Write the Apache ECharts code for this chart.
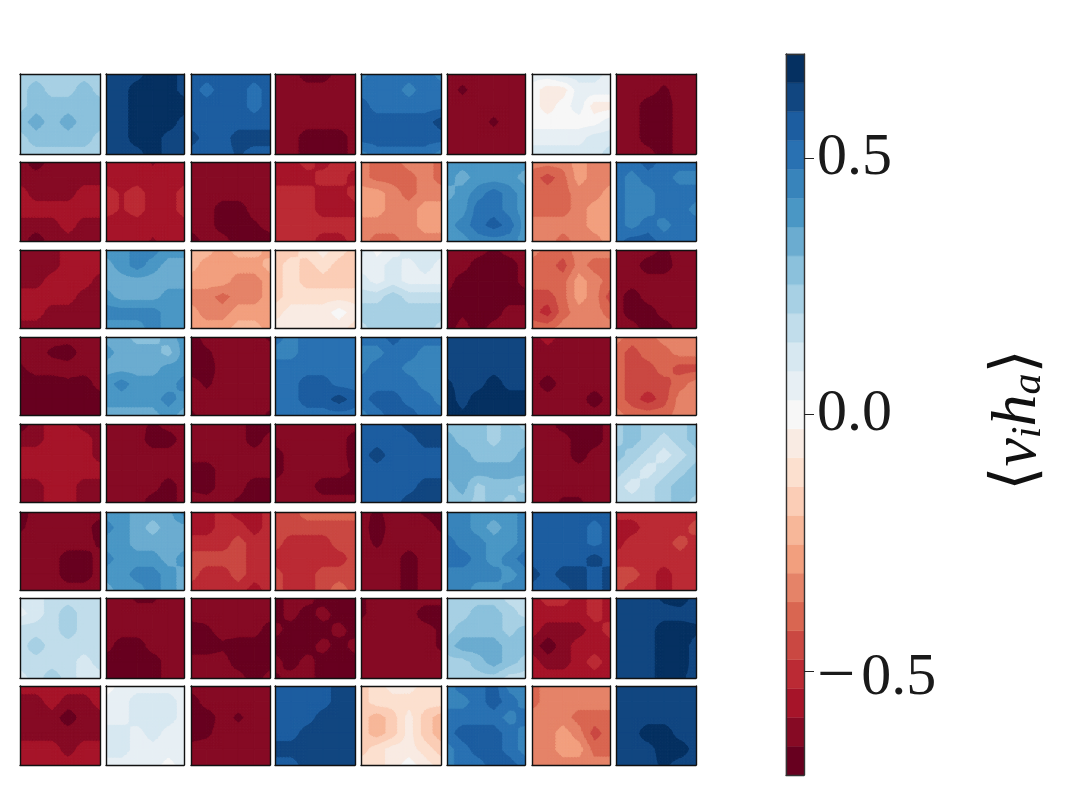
<!DOCTYPE html>
<html>
<head>
<meta charset="utf-8">
<style>html,body{margin:0;padding:0;background:#fff}#c{width:1069px;height:799px}</style>
<script src="https://cdn.jsdelivr.net/npm/echarts@6/dist/echarts.min.js"></script>
</head>
<body>
<div id="c"></div>
<script>
// Mean activation <v_i h_a> per panel: eight rows of eight 6x6 grids, listed row by row from the top.
const row1 = [
  [.23,.23,.23,.23,.23,.23, .23,.28,.23,.23,.28,.23, .23,.28,.28,.28,.28,.28, .28,.34,.28,.34,.28,.28, .23,.28,.28,.28,.28,.23, .23,.23,.23,.23,.23,.23],
  [.62,.62,.62,.68,.68,.62, .62,.62,.68,.68,.68,.62, .62,.62,.68,.68,.68,.68, .62,.62,.68,.68,.68,.62, .62,.62,.68,.68,.62,.62, .62,.62,.62,.68,.62,.62],
  [.56,.56,.56,.56,.56,.56, .56,.51,.56,.56,.51,.56, .56,.56,.56,.56,.51,.56, .56,.56,.56,.56,.56,.56, .62,.56,.56,.62,.62,.62, .56,.56,.56,.6,.56,.56],
  [-.62,-.62,-.68,-.68,-.62,-.62, -.62,-.62,-.62,-.62,-.62,-.62, -.62,-.62,-.62,-.62,-.62,-.62, -.62,-.62,-.62,-.62,-.62,-.62, -.62,-.62,-.68,-.68,-.68,-.62, -.62,-.62,-.68,-.68,-.68,-.62],
  [.45,.51,.51,.51,.51,.45, .51,.51,.51,.45,.51,.51, .56,.51,.51,.51,.51,.51, .56,.56,.56,.56,.56,.62, .56,.56,.56,.56,.56,.56, .45,.51,.51,.51,.51,.45],
  [-.62,-.62,-.62,-.62,-.62,-.62, -.62,-.66,-.62,-.62,-.62,-.62, -.62,-.62,-.62,-.62,-.62,-.62, -.62,-.62,-.62,-.66,-.62,-.62, -.62,-.62,-.62,-.62,-.62,-.62, -.62,-.62,-.62,-.62,-.62,-.62],
  [.06,.06,.11,.11,.11,.06, 0,-.06,-.06,.06,.06,.06, 0,-.06,0,.06,-.06,-.06, 0,0,0,0,0,.06, .06,.06,.06,.06,.11,.11, .11,.11,.11,.11,.11,.17],
  [-.62,-.62,-.62,-.62,-.62,-.62, -.62,-.62,-.62,-.66,-.62,-.62, -.62,-.62,-.68,-.68,-.62,-.62, -.62,-.62,-.68,-.68,-.62,-.62, -.62,-.62,-.68,-.68,-.62,-.62, -.62,-.62,-.62,-.68,-.62,-.62]
];
const row2 = [
  [-.62,-.68,-.62,-.62,-.62,-.62, -.62,-.62,-.62,-.62,-.62,-.62, -.56,-.62,-.62,-.62,-.56,-.56, -.56,-.56,-.56,-.56,-.56,-.56, -.62,-.62,-.62,-.56,-.62,-.62, -.62,-.68,-.62,-.62,-.62,-.62],
  [-.56,-.56,-.56,-.6,-.56,-.56, -.56,-.56,-.56,-.56,-.56,-.56, -.51,-.54,-.51,-.56,-.56,-.51, -.51,-.54,-.51,-.56,-.56,-.51, -.56,-.56,-.56,-.56,-.56,-.56, -.56,-.56,-.56,-.6,-.56,-.56],
  [-.62,-.62,-.62,-.62,-.62,-.62, -.62,-.62,-.62,-.62,-.62,-.62, -.62,-.62,-.62,-.62,-.62,-.62, -.62,-.62,-.68,-.68,-.62,-.62, -.62,-.62,-.68,-.68,-.66,-.62, -.68,-.62,-.62,-.68,-.68,-.68],
  [-.56,-.56,-.51,-.56,-.51,-.51, -.56,-.56,-.56,-.51,-.51,-.56, -.51,-.51,-.51,-.56,-.56,-.51, -.51,-.51,-.51,-.56,-.56,-.56, -.51,-.51,-.51,-.51,-.51,-.51, -.51,-.51,-.51,-.56,-.56,-.51],
  [-.34,-.39,-.39,-.34,-.34,-.39, -.34,-.39,-.39,-.39,-.34,-.39, -.28,-.28,-.34,-.39,-.34,-.34, -.28,-.28,-.34,-.34,-.28,-.28, -.34,-.34,-.34,-.34,-.28,-.28, -.34,-.39,-.39,-.34,-.34,-.34],
  [.39,.39,.39,.39,.39,.39, .39,.34,.39,.39,.39,.34, .34,.39,.45,.51,.45,.39, .39,.39,.51,.51,.45,.39, .39,.45,.51,.56,.51,.39, .39,.39,.45,.45,.45,.39],
  [-.34,-.34,-.34,-.28,-.34,-.34, -.39,-.45,-.39,-.28,-.34,-.34, -.39,-.39,-.39,-.34,-.34,-.28, -.39,-.39,-.39,-.34,-.28,-.28, -.34,-.34,-.34,-.34,-.28,-.28, -.34,-.34,-.39,-.34,-.34,-.28],
  [.51,.51,.56,.51,.51,.51, .51,.45,.51,.51,.45,.45, .51,.45,.45,.51,.51,.51, .51,.45,.45,.51,.51,.45, .51,.45,.51,.45,.51,.51, .51,.56,.56,.51,.51,.51]
];
const row3 = [
  [-.62,-.62,-.62,-.56,-.56,-.56, -.62,-.62,-.62,-.56,-.56,-.56, -.62,-.62,-.56,-.56,-.56,-.62, -.56,-.56,-.56,-.56,-.62,-.62, -.56,-.56,-.62,-.62,-.62,-.62, -.62,-.62,-.62,-.62,-.62,-.62],
  [.39,.39,.45,.45,.39,.39, .34,.39,.45,.39,.34,.34, .34,.34,.34,.34,.34,.34, .39,.34,.34,.34,.39,.39, .45,.45,.45,.45,.39,.39, .39,.39,.39,.45,.39,.39],
  [-.23,-.23,-.28,-.23,-.23,-.28, -.23,-.28,-.28,-.28,-.28,-.23, -.28,-.28,-.28,-.34,-.34,-.28, -.34,-.34,-.39,-.34,-.34,-.28, -.28,-.34,-.34,-.28,-.28,-.28, -.28,-.28,-.28,-.23,-.23,-.28],
  [-.17,-.17,-.11,-.06,-.11,-.17, -.17,-.11,-.17,-.11,-.17,-.17, -.17,-.11,-.17,-.17,-.17,-.17, -.17,-.11,-.11,-.11,-.11,-.11, -.11,-.06,-.06,-.06,0,-.06, -.06,-.06,-.06,-.06,-.06,-.11],
  [.11,0,.06,.11,.11,.11, .06,.06,.11,.06,.11,.06, .11,.06,.11,.06,.06,.06, .17,.17,.23,.17,.17,.17, .23,.23,.23,.23,.23,.23, .17,.23,.23,.23,.23,.17],
  [-.62,-.62,-.62,-.66,-.62,-.62, -.62,-.62,-.68,-.68,-.68,-.62, -.62,-.68,-.68,-.68,-.68,-.62, -.66,-.68,-.68,-.68,-.68,-.68, -.68,-.66,-.68,-.68,-.62,-.62, -.68,-.62,-.68,-.62,-.62,-.62],
  [-.34,-.39,-.39,-.34,-.34,-.34, -.39,-.39,-.45,-.34,-.39,-.39, -.39,-.39,-.39,-.28,-.34,-.39, -.45,-.45,-.39,-.28,-.34,-.45, -.45,-.51,-.39,-.34,-.34,-.39, -.39,-.39,-.34,-.34,-.34,-.34],
  [-.62,-.62,-.62,-.66,-.62,-.62, -.62,-.62,-.68,-.68,-.62,-.62, -.62,-.62,-.62,-.62,-.62,-.62, -.62,-.68,-.62,-.62,-.62,-.62, -.62,-.68,-.68,-.62,-.62,-.62, -.62,-.62,-.68,-.68,-.62,-.62]
];
const row4 = [
  [-.62,-.62,-.62,-.62,-.62,-.62, -.62,-.62,-.66,-.68,-.62,-.62, -.66,-.62,-.62,-.62,-.62,-.62, -.68,-.68,-.68,-.66,-.68,-.62, -.68,-.68,-.66,-.68,-.68,-.68, -.66,-.68,-.68,-.68,-.66,-.68],
  [.34,.34,.28,.28,.34,.39, .39,.34,.34,.34,.28,.39, .34,.34,.34,.34,.39,.39, .39,.45,.39,.39,.39,.45, .39,.39,.39,.39,.45,.39, .34,.34,.34,.34,.39,.34],
  [-.68,-.62,-.62,-.62,-.62,-.66, -.68,-.66,-.62,-.62,-.62,-.62, -.68,-.68,-.62,-.62,-.62,-.62, -.62,-.66,-.62,-.62,-.62,-.62, -.62,-.62,-.62,-.62,-.62,-.62, -.66,-.62,-.62,-.62,-.62,-.66],
  [.51,.45,.51,.51,.51,.51, .45,.45,.51,.51,.51,.51, .51,.51,.51,.51,.51,.51, .51,.51,.56,.56,.51,.51, .51,.51,.56,.56,.62,.56, .51,.51,.51,.51,.51,.51],
  [.51,.51,.56,.51,.51,.51, .45,.45,.51,.51,.45,.45, .45,.51,.51,.45,.45,.45, .51,.51,.51,.51,.45,.45, .51,.56,.56,.51,.51,.45, .45,.51,.56,.56,.51,.51],
  [.62,.62,.62,.62,.62,.62, .62,.62,.62,.62,.62,.62, .62,.62,.62,.62,.62,.62, .66,.62,.62,.68,.62,.62, .68,.62,.68,.68,.68,.68, .68,.66,.68,.68,.68,.68],
  [-.62,-.56,-.62,-.62,-.62,-.62, -.62,-.62,-.62,-.62,-.62,-.62, -.62,-.62,-.62,-.62,-.62,-.62, -.62,-.68,-.62,-.62,-.62,-.62, -.62,-.62,-.62,-.62,-.68,-.62, -.62,-.62,-.62,-.62,-.62,-.62],
  [-.34,-.39,-.39,-.34,-.34,-.34, -.39,-.45,-.39,-.39,-.34,-.34, -.39,-.45,-.45,-.39,-.45,-.45, -.39,-.45,-.45,-.45,-.39,-.34, -.39,-.45,-.51,-.45,-.34,-.34, -.34,-.39,-.39,-.39,-.34,-.34]
];
const row5 = [
  [-.68,-.62,-.56,-.56,-.62,-.62, -.62,-.62,-.56,-.56,-.56,-.62, -.56,-.56,-.56,-.56,-.56,-.62, -.56,-.56,-.56,-.56,-.56,-.56, -.62,-.62,-.56,-.56,-.62,-.62, -.62,-.62,-.56,-.56,-.62,-.62],
  [-.62,-.62,-.62,-.66,-.62,-.62, -.62,-.62,-.62,-.68,-.68,-.62, -.62,-.62,-.62,-.62,-.62,-.62, -.62,-.62,-.62,-.62,-.62,-.62, -.62,-.62,-.62,-.62,-.68,-.62, -.62,-.62,-.62,-.68,-.68,-.62],
  [-.62,-.62,-.62,-.62,-.68,-.68, -.62,-.62,-.62,-.62,-.68,-.62, -.62,-.62,-.62,-.62,-.62,-.62, -.68,-.68,-.62,-.62,-.62,-.62, -.66,-.68,-.62,-.62,-.68,-.68, -.62,-.62,-.62,-.66,-.68,-.68],
  [-.62,-.62,-.62,-.62,-.62,-.62, -.62,-.62,-.62,-.62,-.62,-.68, -.68,-.62,-.62,-.62,-.62,-.68, -.68,-.62,-.62,-.62,-.62,-.66, -.62,-.62,-.62,-.68,-.68,-.68, -.62,-.62,-.62,-.62,-.62,-.62],
  [.56,.56,.56,.62,.62,.62, .56,.56,.56,.56,.62,.62, .56,.62,.56,.56,.56,.56, .56,.56,.56,.56,.56,.56, .56,.56,.56,.56,.62,.62, .56,.56,.56,.62,.62,.62],
  [.28,.28,.28,.23,.28,.23, .34,.28,.28,.23,.28,.28, .34,.34,.28,.28,.28,.34, .34,.34,.34,.34,.34,.34, .28,.34,.23,.28,.28,.23, .28,.28,.23,.28,.23,.28],
  [-.62,-.62,-.68,-.68,-.68,-.62, -.62,-.62,-.62,-.68,-.68,-.62, -.62,-.62,-.62,-.68,-.62,-.62, -.62,-.62,-.62,-.62,-.62,-.62, -.62,-.62,-.62,-.62,-.62,-.62, -.62,-.62,-.66,-.66,-.62,-.62],
  [.23,.28,.23,.23,.23,.28, .23,.28,.23,.17,.23,.28, .28,.23,.17,.11,.17,.23, .23,.17,.11,.17,.23,.28, .17,.11,.17,.23,.28,.28, .17,.17,.17,.23,.28,.23]
];
const row6 = [
  [-.68,-.62,-.62,-.62,-.62,-.62, -.66,-.62,-.62,-.62,-.62,-.68, -.62,-.62,-.62,-.62,-.62,-.66, -.62,-.62,-.62,-.68,-.68,-.62, -.62,-.62,-.62,-.68,-.68,-.62, -.62,-.62,-.62,-.62,-.62,-.62],
  [.39,.39,.34,.34,.34,.45, .45,.39,.34,.28,.34,.34, .39,.39,.34,.34,.34,.34, .45,.39,.39,.39,.34,.39, .39,.39,.45,.45,.39,.34, .34,.39,.39,.45,.39,.34],
  [-.56,-.56,-.51,-.56,-.56,-.51, -.56,-.56,-.51,-.51,-.56,-.51, -.51,-.51,-.51,-.45,-.51,-.51, -.45,-.45,-.45,-.45,-.51,-.51, -.45,-.51,-.51,-.45,-.51,-.51, -.51,-.51,-.51,-.51,-.56,-.51],
  [-.45,-.45,-.39,-.39,-.39,-.39, -.45,-.45,-.45,-.45,-.45,-.45, -.45,-.51,-.51,-.51,-.45,-.45, -.51,-.51,-.51,-.51,-.51,-.45, -.45,-.51,-.51,-.45,-.45,-.45, -.45,-.51,-.51,-.45,-.39,-.45],
  [-.62,-.66,-.62,-.62,-.66,-.68, -.62,-.68,-.62,-.62,-.62,-.66, -.62,-.66,-.62,-.62,-.62,-.62, -.62,-.62,-.62,-.68,-.62,-.62, -.62,-.62,-.62,-.68,-.62,-.62, -.62,-.62,-.62,-.68,-.62,-.62],
  [.45,.45,.39,.39,.39,.45, .45,.45,.39,.34,.39,.45, .51,.45,.45,.39,.39,.45, .51,.51,.45,.39,.45,.51, .45,.45,.45,.45,.39,.45, .45,.45,.39,.39,.45,.45],
  [.56,.56,.56,.56,.56,.56, .56,.56,.56,.56,.51,.56, .56,.56,.56,.56,.51,.56, .56,.56,.56,.56,.62,.56, .62,.56,.62,.62,.56,.62, .56,.56,.56,.62,.56,.62],
  [-.51,-.51,-.51,-.51,-.51,-.51, -.56,-.56,-.51,-.51,-.51,-.45, -.56,-.51,-.51,-.51,-.45,-.51, -.51,-.51,-.51,-.51,-.51,-.51, -.45,-.45,-.51,-.56,-.51,-.51, -.45,-.51,-.51,-.56,-.51,-.51]
];
const row7 = [
  [.11,.11,.17,.17,.17,.17, .06,.11,.17,.23,.17,.17, .17,.17,.17,.23,.17,.17, .17,.23,.17,.17,.17,.17, .17,.17,.17,.17,.11,.17, .11,.17,.23,.17,.11,.11],
  [-.62,-.62,-.66,-.66,-.62,-.62, -.62,-.62,-.62,-.62,-.62,-.62, -.62,-.62,-.62,-.62,-.62,-.62, -.62,-.68,-.68,-.62,-.62,-.62, -.68,-.68,-.68,-.68,-.62,-.62, -.68,-.68,-.68,-.68,-.62,-.62],
  [-.62,-.62,-.62,-.62,-.62,-.62, -.62,-.62,-.62,-.62,-.62,-.62, -.68,-.66,-.62,-.62,-.62,-.68, -.68,-.68,-.66,-.68,-.68,-.68, -.62,-.62,-.62,-.68,-.68,-.68, -.62,-.62,-.62,-.62,-.68,-.62],
  [-.68,-.62,-.62,-.68,-.68,-.68, -.68,-.62,-.68,-.62,-.68,-.68, -.62,-.68,-.68,-.68,-.62,-.68, -.68,-.68,-.68,-.62,-.68,-.62, -.62,-.68,-.62,-.68,-.68,-.68, -.66,-.62,-.62,-.68,-.68,-.68],
  [-.66,-.62,-.62,-.62,-.62,-.62, -.66,-.62,-.62,-.62,-.68,-.68, -.62,-.62,-.62,-.62,-.62,-.66, -.62,-.62,-.62,-.62,-.62,-.66, -.62,-.62,-.62,-.62,-.62,-.62, -.62,-.62,-.62,-.62,-.62,-.62],
  [.23,.23,.23,.23,.17,.17, .23,.23,.28,.28,.23,.17, .23,.28,.28,.28,.23,.28, .28,.34,.34,.34,.28,.28, .23,.23,.28,.34,.28,.23, .23,.23,.23,.23,.17,.17],
  [-.56,-.51,-.51,-.56,-.51,-.56, -.56,-.56,-.56,-.56,-.51,-.56, -.56,-.62,-.62,-.62,-.56,-.51, -.62,-.68,-.62,-.56,-.56,-.56, -.56,-.62,-.62,-.56,-.51,-.56, -.56,-.56,-.56,-.56,-.56,-.56],
  [.62,.62,.62,.66,.68,.62, .62,.62,.62,.62,.62,.62, .62,.62,.62,.68,.68,.66, .62,.62,.62,.68,.68,.62, .62,.62,.62,.68,.68,.62, .62,.62,.62,.68,.66,.62]
];
const row8 = [
  [-.56,-.56,-.56,-.56,-.56,-.56, -.62,-.62,-.56,-.62,-.62,-.56, -.62,-.62,-.62,-.68,-.62,-.62, -.62,-.62,-.62,-.62,-.62,-.62, -.56,-.56,-.56,-.62,-.56,-.56, -.56,-.56,-.56,-.56,-.56,-.56],
  [-.02,.06,.06,.06,.06,.06, .06,.06,.11,.11,.11,.06, .06,.06,.11,.11,.11,.06, .11,.11,.06,.11,.06,.06, .11,.11,.06,.06,.06,.06, .06,.06,.06,.06,0,.06],
  [-.62,-.62,-.62,-.62,-.62,-.62, -.68,-.62,-.62,-.62,-.62,-.62, -.68,-.68,-.62,-.66,-.62,-.62, -.68,-.66,-.62,-.62,-.62,-.62, -.62,-.62,-.62,-.62,-.62,-.62, -.62,-.62,-.62,-.62,-.62,-.62],
  [.56,.56,.56,.56,.62,.62, .56,.56,.56,.56,.62,.62, .56,.56,.56,.62,.62,.62, .56,.56,.62,.62,.62,.62, .62,.62,.62,.62,.62,.62, .56,.56,.62,.62,.62,.62],
  [-.17,-.11,-.06,-.06,-.11,-.11, -.17,-.11,-.11,-.11,-.11,-.11, -.17,-.23,-.17,-.06,-.17,-.23, -.17,-.23,-.17,-.06,-.17,-.23, -.17,-.11,-.06,-.06,-.11,-.17, -.11,-.11,-.06,0,-.06,-.11],
  [.45,.51,.51,.56,.45,.45, .45,.45,.51,.56,.51,.45, .51,.51,.51,.51,.45,.51, .51,.56,.56,.56,.51,.45, .45,.51,.56,.56,.51,.45, .45,.51,.51,.56,.56,.51],
  [-.39,-.34,-.34,-.34,-.34,-.34, -.39,-.34,-.34,-.34,-.34,-.34, -.34,-.34,-.34,-.39,-.39,-.39, -.34,-.34,-.28,-.34,-.45,-.39, -.34,-.34,-.28,-.28,-.39,-.39, -.34,-.34,-.34,-.34,-.34,-.34],
  [.62,.62,.62,.62,.62,.62, .62,.62,.62,.62,.62,.62, .62,.62,.62,.62,.62,.62, .62,.62,.68,.68,.62,.62, .62,.62,.62,.68,.68,.62, .62,.62,.62,.66,.62,.62]
];
const panelRows = [row1, row2, row3, row4, row5, row6, row7, row8];

// Discrete RdBu levels of the colour bar, lowest value first.
const levelColors = ['#67001f','#860a24','#a61429','#bb2a34','#ca4842','#d96651','#e58368','#f29f7e','#f7b799','#fbcdb6','#fce0cf','#f9ebe3','#f7f7f7','#e7eff4','#d7e8f1','#c1ddeb','#a7d0e4','#8bc1dc','#6bacd0','#4a97c5','#3884bb','#2971b2','#1c5da0','#114680','#053061'];
const levelMin = -0.703;
const levelMax = 0.703;
const tickValues = [-0.5, 0, 0.5];
const tickLabels = ['{n|\u2212}{d|0.5}', '{z|0.0}', '{z|0.5}'];

const gridSize = 6;
const colLefts = [20, 106, 191, 275, 361, 447, 532, 616];
const colWidths = [80, 78, 79, 80, 80, 78, 78, 80];
const rowTops = [74, 162, 250, 337, 424, 512, 598, 686];
const rowHeights = [80, 79, 78, 78, 78, 78, 80, 79];
const levelStep = (levelMax - levelMin) / levelColors.length;
const cellSteps = 5;

function levelOf(v) {
  return Math.max(0, Math.min(levelColors.length - 1, Math.floor((v - levelMin) / levelStep)));
}

// Keeps the part of a polygon on one side of a contour value (sign +1: above, -1: below).
function clipByValue(poly, limit, sign) {
  const out = [];
  for (let k = 0; k < poly.length; k++) {
    const a = poly[k], b = poly[(k + 1) % poly.length];
    const da = sign * (a[2] - limit), db = sign * (b[2] - limit);
    if (da >= 0) out.push(a);
    if ((da >= 0) !== (db >= 0)) {
      const t = da / (da - db);
      out.push([a[0] + t * (b[0] - a[0]), a[1] + t * (b[1] - a[1]), limit]);
    }
  }
  return out;
}

function filled(points, color) {
  return { type: 'polygon', shape: { points }, style: { fill: color, stroke: color, lineWidth: 1 } };
}

// Filled contours of one grid cell, traced on the bilinear surface through its four corners.
function renderCell(params, api) {
  const i = api.value(0), j = api.value(1);
  const v00 = api.value(2), v10 = api.value(3), v11 = api.value(4), v01 = api.value(5);
  const surface = (u, w) => {
    const p = api.coord([i + u, j + w]);
    return [p[0], p[1], v00 * (1 - u) * (1 - w) + v10 * u * (1 - w) + v11 * u * w + v01 * (1 - u) * w];
  };
  const quad = (u0, w0, u1, w1) => [surface(u0, w0), surface(u1, w0), surface(u1, w1), surface(u0, w1)];
  const children = [];
  const drawQuad = (u0, w0, u1, w1) => {
    const q = quad(u0, w0, u1, w1);
    const lv = q.map(p => levelOf(p[2]));
    if (lv.every(l => l === lv[0])) {
      children.push(filled(q.map(p => [p[0], p[1]]), levelColors[lv[0]]));
      return;
    }
    const mid = surface((u0 + u1) / 2, (w0 + w1) / 2);
    for (let s = 0; s < 4; s++) {
      const tri = [q[s], q[(s + 1) % 4], mid];
      const from = Math.min(levelOf(tri[0][2]), levelOf(tri[1][2]), levelOf(tri[2][2]));
      const to = Math.max(levelOf(tri[0][2]), levelOf(tri[1][2]), levelOf(tri[2][2]));
      for (let l = from; l <= to; l++) {
        let poly = clipByValue(tri, l === 0 ? -9 : levelMin + l * levelStep, 1);
        if (poly.length) poly = clipByValue(poly, l === levelColors.length - 1 ? 9 : levelMin + (l + 1) * levelStep, -1);
        if (poly.length > 2) children.push(filled(poly.map(p => [p[0], p[1]]), levelColors[l]));
      }
    }
  };
  const corners = [v00, v10, v11, v01].map(levelOf);
  if (corners.every(l => l === corners[0])) {
    drawQuad(0, 0, 1, 1);
  } else {
    for (let a = 0; a < cellSteps; a++) {
      for (let b = 0; b < cellSteps; b++) {
        drawQuad(a / cellSteps, b / cellSteps, (a + 1) / cellSteps, (b + 1) / cellSteps);
      }
    }
  }
  return { type: 'group', children };
}

function renderLevel(params, api) {
  const a = api.coord([0, api.value(0)]);
  const b = api.coord([1, api.value(1)]);
  return {
    type: 'rect',
    shape: { x: a[0], y: b[1], width: b[0] - a[0], height: a[1] - b[1] },
    style: { fill: levelColors[params.dataIndex], stroke: levelColors[params.dataIndex], lineWidth: 0.4 }
  };
}

const frameLine = color => ({ show: true, onZero: false, lineStyle: { color, width: 1.4 } });
const hidden = { axisTick: { show: false }, axisLabel: { show: false }, splitLine: { show: false } };

const grid = [], xAxis = [], yAxis = [], series = [];
panelRows.forEach((row, r) => row.forEach((values, c) => {
  const g = grid.length;
  grid.push({ left: colLefts[c], top: rowTops[r], width: colWidths[c], height: rowHeights[r] });
  ['bottom', 'top'].forEach(position => xAxis.push({
    type: 'value', gridIndex: g, position, min: 0, max: gridSize - 1, z: 5,
    axisLine: frameLine('#111'), ...hidden
  }));
  ['left', 'right'].forEach(position => yAxis.push({
    type: 'value', gridIndex: g, position, min: 0, max: gridSize - 1, inverse: true, z: 5,
    axisLine: frameLine('#111'), ...hidden
  }));
  const cells = [];
  for (let j = 0; j < gridSize - 1; j++) {
    for (let i = 0; i < gridSize - 1; i++) {
      const at = (x, y) => values[y * gridSize + x];
      cells.push([i, j, at(i, j), at(i + 1, j), at(i + 1, j + 1), at(i, j + 1)]);
    }
  }
  series.push({
    type: 'custom', xAxisIndex: 2 * g, yAxisIndex: 2 * g, silent: true, clip: true,
    coordinateSystem: 'cartesian2d', data: cells, renderItem: renderCell,
    encode: { x: 0, y: 1 }
  });
}));

// Colour bar with its tick labels on the right.
const barGrid = grid.length;
grid.push({ left: 786, top: 54, width: 18, height: 721 });
['bottom', 'top'].forEach(position => xAxis.push({
  type: 'value', gridIndex: barGrid, position, min: 0, max: 1, z: 5,
  axisLine: frameLine('#333'), ...hidden
}));
yAxis.push({
  type: 'value', gridIndex: barGrid, position: 'left', min: levelMin, max: levelMax, z: 5,
  axisLine: frameLine('#333'), ...hidden
});
const tickFont = { fontFamily: 'Liberation Serif', color: '#1a1a1a' };
yAxis.push({
  type: 'value', gridIndex: barGrid, position: 'right', min: levelMin, max: levelMax, z: 5,
  axisLine: frameLine('#333'),
  axisTick: { show: true, customValues: tickValues, length: 10, lineStyle: { color: '#222', width: 1 } },
  axisLabel: {
    show: true, customValues: tickValues, margin: 13,
    formatter: value => tickLabels[tickValues.indexOf(value)],
    rich: {
      z: { ...tickFont, fontSize: 60 },
      d: { ...tickFont, fontSize: 60, padding: [14, 0, 0, 6] },
      n: { ...tickFont, fontSize: 68, padding: [14, 0, 0, 0] }
    }
  },
  splitLine: { show: false }
});
series.push({
  type: 'custom', xAxisIndex: 2 * barGrid, yAxisIndex: 2 * barGrid, silent: true,
  coordinateSystem: 'cartesian2d', renderItem: renderLevel,
  data: levelColors.map((_, l) => [levelMin + l * levelStep, levelMin + (l + 1) * levelStep]),
  encode: { y: [0, 1] }
});

const chart = echarts.init(document.getElementById('c'), null, { renderer: 'canvas' });
chart.setOption({
  animation: false,
  backgroundColor: '#fff',
  grid, xAxis, yAxis, series,
  graphic: [{
    type: 'text', x: 1018, y: 420, rotation: Math.PI / 2,
    style: {
      text: '{b|\u27e8}{m|v}{s|i}{m|h}{s|a}{b|\u27e9}',
      align: 'center', verticalAlign: 'middle', fill: '#111',
      rich: {
        b: { fontFamily: 'DejaVu Sans', fontSize: 62, fill: '#111' },
        m: { fontFamily: 'Liberation Serif', fontStyle: 'italic', fontSize: 64, fill: '#111' },
        s: { fontFamily: 'Liberation Serif', fontStyle: 'italic', fontSize: 42, fill: '#111', padding: [22, 0, 0, 0] }
      }
    }
  }]
});
</script>
</body>
</html>
